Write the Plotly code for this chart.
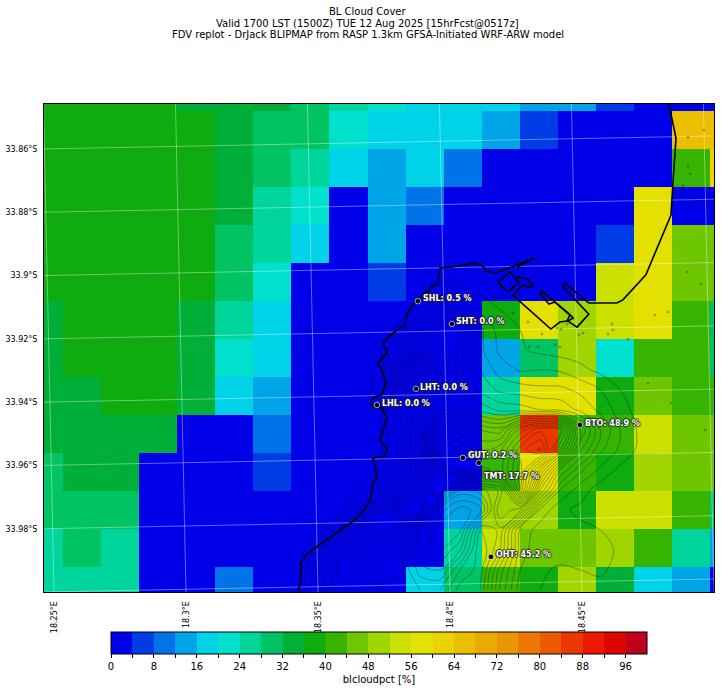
import plotly.graph_objects as go

# --- colour classes of the colour bar (each spans 4 %)
level_colors = ["#0000e8","#003ce6","#0073e8","#00a5e8","#00d2e8","#00e1cd","#00d59b","#00c364",
                "#00af37","#0fac0f","#37b400","#6ec600","#a0d500","#cde100","#e4e100","#ebd200",
                "#ebbe00","#e9aa00","#e99600","#eb7800","#eb5a00","#ed3700","#eb1900","#de0500","#be001e"]
level_step = 4
cbar_ticks = list(range(0, 100, 4))

# --- cloud cover cells (%), north to south, west to east
lon_edges = [18.2462,18.2534,18.2678,18.2822,18.2967,18.3111,18.3255,18.3399,18.3543,18.3688,
             18.3832,18.3976,18.4120,18.4264,18.4409,18.4553,18.4697,18.4841,18.4985,18.5]
lat_edges = [-33.8458,-33.8481,-33.8601,-33.8721,-33.8841,-33.8961,-33.9081,-33.9201,-33.9321,
             -33.9441,-33.9561,-33.9681,-33.9801,-33.9921,-34.0]
cloud_pct = [
 [38,38,38,38,34,34,34,30,26,22,18,18,18,14,14, 6, 2, 2, 2],
 [38,38,38,38,38,34,30,30,22,18,18,18,14, 6, 2, 2, 2,66,66],
 [38,38,38,38,38,34,30,26,18,14,18,10, 2, 2, 2, 2, 2,42,62],
 [38,38,38,38,38,34,26,22, 2,14,10, 2, 2, 2, 2, 2,58, 2, 2],
 [38,38,38,38,38,30,26,18, 2,14, 2, 2, 2, 2, 2, 6,58,46,46],
 [38,38,38,38,38,30,22, 2, 2, 6, 2, 2, 2, 2, 2,54,58,46,46],
 [34,38,38,38,34,26,18, 2, 2, 2, 2, 2,38,58,50,54,58,42,30],
 [34,38,38,38,34,22,18, 2, 2, 2, 2, 2,14,30,50,22,42,42,30],
 [34,34,38,38,34,18,14, 2, 2, 2, 2, 2,26,58,58,38,46,42,42],
 [34,34,34,34, 2, 2,10, 2, 2, 2, 2, 2,46,86,42,42,54,46,46],
 [30,34,34, 2, 2, 2, 6, 2, 2, 2, 2, 2,42,58,42,38,50,46,46],
 [30,30,30, 2, 2, 2, 2, 2, 2, 2, 2,14,50,50,38,54,54,42,30],
 [26,30,26, 2, 2, 2, 2, 2, 2, 2, 2,26,54,46,46,50,42,26,14],
 [26,26,26, 2, 2,10, 2, 2, 2, 2,18,30,42,38,50,34,18,14, 2],
]

# --- axis labels
lat_ticks = [-33.86,-33.88,-33.90,-33.92,-33.94,-33.96,-33.98]
lat_labels = ["33.86°S","33.88°S","33.9°S","33.92°S","33.94°S","33.96°S","33.98°S"]
lon_ticks = [18.25,18.30,18.35,18.40,18.45]
lon_labels = ["18.25°E","18.3°E","18.35°E","18.4°E","18.45°E"]
grat_lons = [18.25,18.30,18.35,18.40,18.45,18.50]
grat_lats = [-33.86,-33.88,-33.90,-33.92,-33.94,-33.96,-33.98,-34.0,-33.84]
meridian_tilt = 0.004
parallel_tilt = 0.0041

# --- terrain heights (m), rough reading of the contour picture
terrain_lon0, terrain_dlon = 18.3432, 0.00758
terrain_lat0, terrain_dlat = -33.8982, -0.00632
terrain = [
 [0,0,0,0,0,0,0,0,0,0,0,0,0,0,0,0,0,0],
 [0,0,0,0,0,0,10,30,30,10,0,0,0,0,0,0,0,0],
 [0,0,0,0,0,0,30,130,150,50,20,0,0,0,0,0,0,0],
 [0,0,0,0,0,30,170,280,280,110,40,20,0,0,0,0,0,0],
 [0,0,0,0,10,150,300,310,240,110,50,25,10,0,0,0,0,0],
 [0,0,0,0,30,300,560,380,230,140,80,55,60,55,30,10,0,0],
 [0,0,0,0,30,270,480,330,250,170,130,120,110,110,90,60,20,0],
 [0,0,0,0,10,150,280,380,310,250,210,200,180,170,130,90,40,0],
 [0,0,0,0,20,130,280,560,520,420,400,560,650,620,300,140,60,10],
 [0,0,0,0,10,130,300,650,620,500,530,680,750,500,230,110,50,10],
 [0,0,0,0,0,100,250,500,650,600,560,720,480,220,110,50,10,0],
 [0,0,0,30,120,250,420,500,250,280,350,700,300,100,40,0,0,0],
 [0,0,0,90,300,480,500,200,120,160,420,350,90,30,10,0,0,0],
 [0,20,150,330,420,300,160,110,130,380,330,90,40,30,30,20,0,0],
 [0,100,250,360,450,350,170,130,220,420,300,80,30,35,40,30,15,0],
 [10,150,280,300,350,350,240,220,340,400,200,60,25,15,20,25,10,0],
 [40,170,250,270,300,320,300,300,400,380,170,40,20,10,10,10,10,0],
]

# --- coastline
coast_lon = [18.3424,18.3435,18.3435,18.3462,18.3496,18.3640,18.3659,18.3697,18.3708,18.3723,18.3716,18.3708,
             18.3753,18.3761,18.3734,18.3753,18.3761,18.3742,18.3708,18.3700,18.3712,18.3742,18.3757,18.3746,
             18.3727,18.3761,18.3746,18.3784,18.3829,18.3841,18.3875,18.3931,18.3954,18.3962,18.4007,18.4094,
             18.4125,18.4136,18.4170,18.4253,18.4322,18.4253,None,
             18.4181,18.4227,18.4261,18.4219,18.4181,None,
             18.4253,18.4295,18.4314,18.4295,18.4276,18.4238,18.4382,18.4416,18.4443,18.4454,18.4397,18.4375,
             18.4341,18.4348,18.4447,18.4466,18.4447,18.4481,18.4526,18.4428,18.4435,18.4526,
             18.4632,18.4655,18.4742,18.4837,18.4844,18.4856,18.4829]
coast_lat = [-34.0,-33.9962,-33.9908,-33.9876,-33.9857,-33.9772,-33.9756,-33.9715,-33.9655,-33.9640,-33.9605,-33.9576,
             -33.9570,-33.9545,-33.9520,-33.9472,-33.9450,-33.9418,-33.9415,-33.9400,-33.9384,-33.9377,-33.9340,-33.9308,
             -33.9276,-33.9245,-33.9213,-33.9182,-33.9156,-33.9115,-33.9077,-33.9036,-33.9024,-33.8976,-33.8973,-33.8961,
             -33.8970,-33.8986,-33.8992,-33.8967,-33.8945,-33.8973,None,
             -33.9021,-33.8989,-33.9021,-33.9052,-33.9021,None,
             -33.9005,-33.9011,-33.9033,-33.9036,-33.9030,-33.9062,-33.9169,-33.9147,-33.9144,-33.9125,-33.9084,-33.9090,
             -33.9058,-33.9049,-33.9118,-33.9134,-33.9144,-33.9163,-33.9122,-33.9036,-33.9024,-33.9087,
             -33.9087,-33.9077,-33.8998,-33.8809,-33.8714,-33.8566,-33.8458]

# --- small islets / map specks
speck_lon = [18.4901,18.4962,18.4901,18.4909,18.4882,18.4871,18.4897,18.4950,18.4776,18.4825,18.4613,18.4598,
             18.4617,18.4674,18.4503,18.4488,18.4466,18.4443,18.4420,18.4405,18.4348,18.4397,18.4416,18.4333,
             18.4299,18.4295,18.4238,18.4163,18.4007,18.4037,18.4409,18.4750,18.4837,18.4966]
speck_lat = [-33.8563,-33.8541,-33.8654,-33.8679,-33.8717,-33.8752,-33.8989,-33.9027,-33.9125,-33.9115,-33.9153,-33.9185,
             -33.9172,-33.9201,-33.9182,-33.9188,-33.9137,-33.9153,-33.9169,-33.9166,-33.9185,-33.9219,-33.9226,-33.9226,
             -33.9226,-33.9147,-33.9118,-33.9068,-33.9008,-33.9030,-33.9014,-33.9340,-33.9403,-33.9488]

# --- stations
station_names = ["SHL","SHT","LHT","LHL","BTO","GUT","TMT","OHT"]
station_cloud = [0.5,0.0,0.0,0.0,48.9,0.2,17.7,45.2]
station_lon = [18.3878,18.4007,18.3871,18.3723,18.4492,18.4049,18.4109,18.4155]
station_lat = [-33.9081,-33.9153,-33.9358,-33.9409,-33.9472,-33.9576,-33.9592,-33.9889]
label_shift = [(3,3),(2,2),(2,1),(3,1),(3,1),(3,2),(3,-14),(3,2)]

title_lines = ["BL Cloud Cover",
               "Valid 1700 LST (1500Z) TUE 12 Aug 2025 [15hrFcst@0517z]",
               "FDV replot - DrJack BLIPMAP from RASP 1.3km GFSA-Initiated WRF-ARW model"]

FONT = "DejaVu Sans"
n = len(level_colors)
scale = []
for i, c in enumerate(level_colors):
    scale += [[i / n, c], [(i + 1) / n, c]]

fig = go.Figure()
fig.add_trace(go.Heatmap(
    x=lon_edges, y=lat_edges, z=cloud_pct, zmin=0, zmax=n * level_step, colorscale=scale, hoverinfo="skip",
    colorbar=dict(orientation="h", x=0.5, xanchor="center", y=-0.082, yanchor="top", len=0.8, lenmode="fraction",
                  thickness=22, outlinecolor="black", outlinewidth=1, xpad=0, ypad=0,
                  tickmode="array", tickvals=cbar_ticks,
                  ticktext=[str(t) if t % 8 == 0 else "" for t in cbar_ticks],
                  ticks="outside", ticklen=4, tickwidth=1, tickcolor="black",
                  tickfont=dict(family=FONT, size=10, color="black"),
                  title=dict(text="blcloudpct [%]", side="bottom", font=dict(family=FONT, size=10, color="black")))))
fig.add_trace(go.Contour(
    x0=terrain_lon0, dx=terrain_dlon, y0=terrain_lat0, dy=terrain_dlat, z=terrain,
    contours=dict(coloring="none", start=20, end=800, size=40), showscale=False, hoverinfo="skip",
    line=dict(color="rgba(0,0,0,0.45)", width=0.7, smoothing=1.0)))

for L in grat_lons:
    fig.add_trace(go.Scatter(x=[L - meridian_tilt, L], y=[-33.8458, -34.0], mode="lines", hoverinfo="skip",
                             line=dict(color="rgba(255,255,255,0.38)", width=1), showlegend=False))
for La in grat_lats:
    fig.add_trace(go.Scatter(x=[18.2462, 18.5], y=[La, La + parallel_tilt], mode="lines", hoverinfo="skip",
                             line=dict(color="rgba(255,255,255,0.38)", width=1), showlegend=False))

fig.add_trace(go.Scatter(x=coast_lon, y=coast_lat, mode="lines", line=dict(color="black", width=1.6),
                         hoverinfo="skip", showlegend=False, connectgaps=False))
fig.add_trace(go.Scatter(x=speck_lon, y=speck_lat, mode="markers", hoverinfo="skip", showlegend=False,
                         marker=dict(size=2, color="rgba(0,0,0,0)", line=dict(color="rgba(0,0,0,0.5)", width=0.6))))
fig.add_trace(go.Scatter(x=station_lon, y=station_lat, mode="markers", hoverinfo="skip", showlegend=False,
                         marker=dict(size=5.5, color="black", line=dict(color="rgba(255,255,255,0.8)", width=0.8))))

annots = []
for nm, v, lo, la, (dx, dy) in zip(station_names, station_cloud, station_lon, station_lat, label_shift):
    annots.append(dict(x=lo, y=la, xref="x", yref="y", text=f"<b>{nm}: {v:.1f} %</b>", showarrow=False,
                       xanchor="left", yanchor="middle", xshift=dx, yshift=dy,
                       font=dict(family=FONT, size=8, color="white",
                                 shadow="1px 0 1px #222, -1px 0 1px #222, 0 1px 1px #222, 0 -1px 1px #222")))
for t, py in zip(title_lines, [11.5, 23.5, 35]):
    annots.append(dict(x=(367.5 - 44) / 670, y=1 + (104 - py) / 488, xref="paper", yref="paper", text=t,
                       showarrow=False, xanchor="center", yanchor="middle",
                       font=dict(family=FONT, size=10, color="black")))

fig.update_layout(
    width=721, height=692, margin=dict(l=44, r=7, t=104, b=100, autoexpand=False),
    paper_bgcolor="white", plot_bgcolor="white", showlegend=False, annotations=annots,
    xaxis=dict(range=[18.2462, 18.5], showgrid=False, zeroline=False, showline=True, mirror=True,
               linecolor="black", linewidth=1, tickmode="array", tickvals=lon_ticks, ticktext=lon_labels,
               tickangle=-90, ticks="", ticklabelstandoff=5, tickfont=dict(family=FONT, size=8, color="black")),
    yaxis=dict(range=[-34.0, -33.8458], showgrid=False, zeroline=False, showline=True, mirror=True,
               linecolor="black", linewidth=1, tickmode="array", tickvals=lat_ticks, ticktext=lat_labels,
               ticks="", ticklabelstandoff=4, tickfont=dict(family=FONT, size=8, color="black")),
)
fig.write_html("out.html", config={"displayModeBar": False},
               post_script="document.body.style.margin='0';document.body.style.overflow='hidden';")
